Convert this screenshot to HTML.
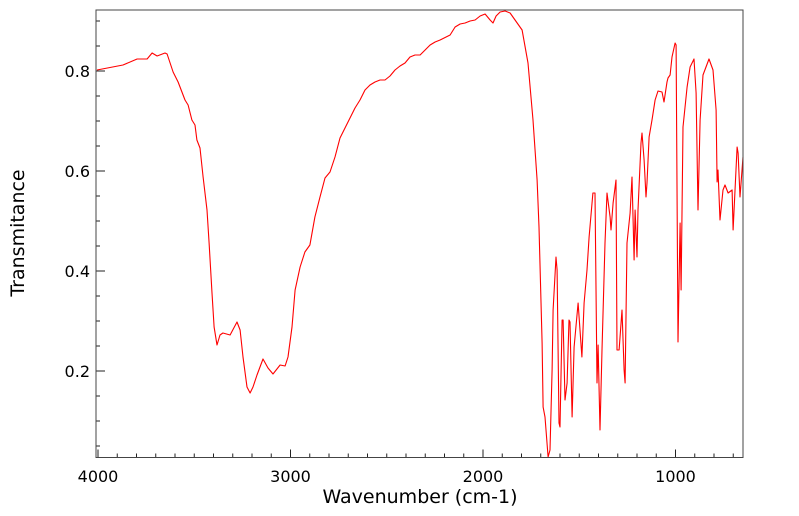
<!DOCTYPE html>
<html><head><meta charset="utf-8"><style>
html,body{margin:0;padding:0;background:#fff;}
svg{display:block;font-family:"DejaVu Sans","Liberation Sans",sans-serif;}
</style></head><body>
<svg id="chart" width="799" height="516" viewBox="0 0 799 516" xmlns="http://www.w3.org/2000/svg">
<rect x="0" y="0" width="799" height="516" fill="#fff"/>
<g id="ticks"></g>
<path id="series" fill="none" stroke="#ff0000" stroke-width="1.1" stroke-linejoin="round"/>
<rect x="96" y="10" width="647" height="447.5" fill="none" stroke="#444" stroke-width="1"/>
<text x="420" y="503" font-size="19" text-anchor="middle" fill="#000">Wavenumber (cm-1)</text>
<text x="24" y="233" font-size="19" text-anchor="middle" fill="#000" transform="rotate(-90 24 233)">Transmitance</text>
</svg>
<script>
const wavenumbers=[4005,3870,3797,3745,3719,3693,3652,3641,3610,3584,3548,3532,3512,3496,3486,3470,3454,3434,3423,3408,3397,3382,3366,3351,3314,3278,3262,3247,3226,3210,3195,3174,3143,3117,3091,3054,3028,3013,2992,2976,2950,2925,2899,2873,2847,2821,2795,2769,2743,2717,2691,2665,2639,2613,2587,2561,2535,2509,2483,2457,2431,2405,2379,2353,2327,2301,2275,2249,2223,2171,2145,2119,2093,2067,2041,2015,1989,1963,1948,1932,1911,1885,1859,1797,1766,1740,1719,1709,1693,1688,1678,1662,1652,1641,1636,1621,1615,1605,1600,1589,1584,1574,1563,1553,1548,1537,1527,1506,1486,1475,1460,1449,1429,1418,1408,1402,1392,1382,1366,1356,1340,1335,1324,1309,1304,1293,1278,1267,1262,1252,1236,1226,1215,1210,1200,1195,1179,1174,1163,1153,1148,1137,1122,1106,1091,1070,1060,1044,1039,1028,1018,1002,997,987,976,971,961,940,924,904,893,883,872,857,826,805,789,784,779,769,753,743,727,706,701,680,675,665,649];
const transmittance=[0.802,0.812,0.824,0.824,0.836,0.830,0.836,0.834,0.798,0.778,0.742,0.732,0.702,0.692,0.662,0.646,0.588,0.522,0.456,0.356,0.288,0.252,0.272,0.276,0.272,0.298,0.282,0.228,0.168,0.156,0.168,0.192,0.224,0.206,0.194,0.212,0.210,0.228,0.288,0.362,0.408,0.438,0.452,0.508,0.548,0.586,0.598,0.628,0.666,0.686,0.706,0.726,0.742,0.762,0.772,0.778,0.782,0.782,0.790,0.802,0.810,0.816,0.828,0.832,0.832,0.842,0.852,0.858,0.862,0.872,0.888,0.894,0.896,0.900,0.902,0.910,0.914,0.902,0.896,0.910,0.918,0.920,0.916,0.882,0.816,0.702,0.582,0.488,0.256,0.128,0.108,0.028,0.042,0.202,0.322,0.428,0.402,0.096,0.088,0.302,0.302,0.142,0.176,0.302,0.298,0.108,0.248,0.336,0.228,0.336,0.402,0.468,0.556,0.556,0.176,0.252,0.082,0.242,0.456,0.556,0.508,0.482,0.536,0.582,0.242,0.242,0.322,0.202,0.176,0.456,0.516,0.588,0.422,0.522,0.428,0.522,0.656,0.676,0.622,0.548,0.576,0.668,0.702,0.742,0.760,0.758,0.738,0.778,0.786,0.792,0.828,0.856,0.852,0.258,0.496,0.362,0.688,0.768,0.808,0.824,0.756,0.522,0.702,0.792,0.824,0.802,0.722,0.578,0.602,0.502,0.562,0.572,0.556,0.562,0.482,0.648,0.636,0.548,0.628];
const xTickLabels=[4000,3000,2000,1000];
const yTickLabels=[0.2,0.4,0.6,0.8];

const L=96,R=743,T=10,B=457.5;
function xs(w){return 98+(4000-w)*0.1925;}
function ys(v){return 71+(0.8-v)*500;}
const NS="http://www.w3.org/2000/svg";
const g=document.getElementById('ticks');
function line(x1,y1,x2,y2,name){
  const l=document.createElementNS(NS,'line');
  l.setAttribute('x1',x1);l.setAttribute('y1',y1);l.setAttribute('x2',x2);l.setAttribute('y2',y2);
  l.setAttribute('stroke','#222');l.setAttribute('stroke-width','1');
  
  
  g.appendChild(l);
}
function text(x,y,s,anchor,name){
  const t=document.createElementNS(NS,'text');
  t.setAttribute('x',x);t.setAttribute('y',y);t.setAttribute('font-size','16');
  t.setAttribute('text-anchor',anchor);t.setAttribute('fill','#000');
  t.textContent=s;
  
  
  g.appendChild(t);
}
for(let w=4000;w>=650;w-=100){
  const x=xs(w);if(x<L||x>R)continue;
  const major=w%1000===0;
  line(x,B,x,B-(major?8:4),'x-tick');
}
xTickLabels.forEach(w=>text(xs(w),482,String(w),'middle','x-tick-label'));
for(let k=1;k<=18;k++){
  const v=k*0.05;const y=ys(v);if(y<T||y>B)continue;
  const major=(k%4===0);
  line(L,y,L+(major?9:4),y,'y-tick');
}
yTickLabels.forEach(v=>text(90,ys(v)+6,v.toFixed(1),'end','y-tick-label'));
let d='';
wavenumbers.forEach((w,i)=>{
  const x=Math.max(L,Math.min(R,xs(w))),y=Math.max(T,Math.min(B,ys(transmittance[i])));
  d+=(i?'L':'M')+x.toFixed(1)+' '+y.toFixed(1);
});
document.getElementById('series').setAttribute('d',d);
</script>
</body></html>
